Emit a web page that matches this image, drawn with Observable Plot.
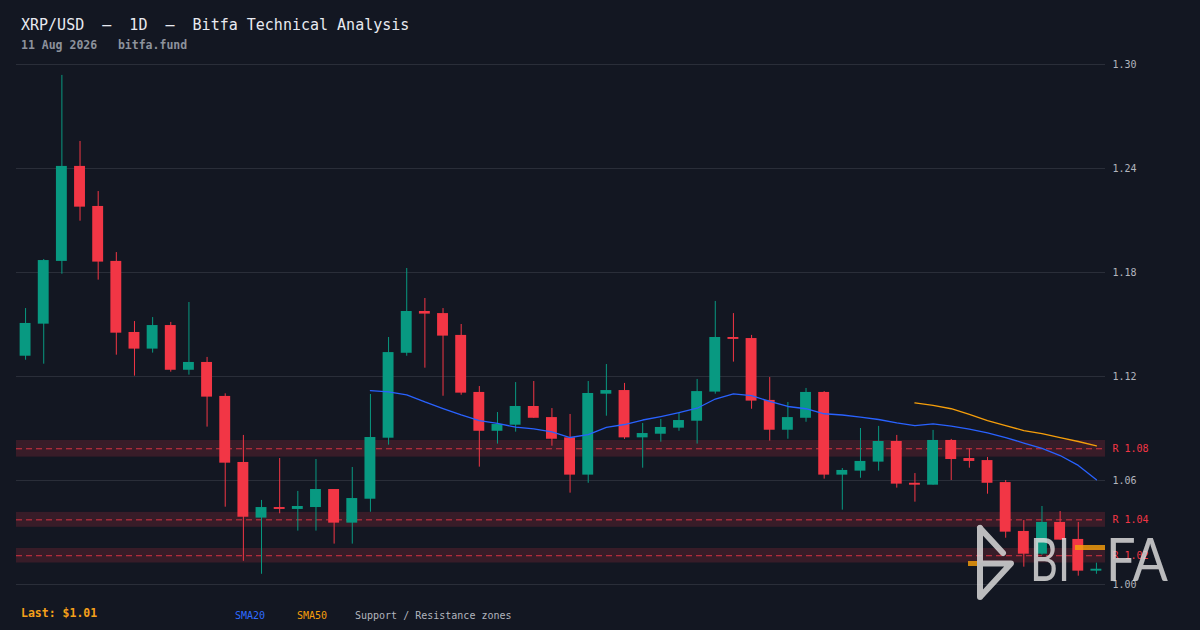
<!DOCTYPE html>
<html>
<head>
<meta charset="utf-8">
<script src="https://cdn.jsdelivr.net/npm/d3@7"></script>
<script src="https://cdn.jsdelivr.net/npm/@observablehq/plot@0.6"></script>
<style>
  html, body { margin:0; padding:0; background:#131722; }
  #wrap { position:relative; width:1200px; height:630px; overflow:hidden; background:#131722; font-family:"DejaVu Sans Mono", monospace; }
  .title { position:absolute; left:21px; top:16px; font-size:15px; line-height:18px; color:#e8eaf0; white-space:pre; }
  .sub { position:absolute; left:21px; top:38px; font-size:11.5px; line-height:14px; color:#8d929c; font-weight:bold; white-space:pre; }
  #chart { position:absolute; left:0; top:56px; }
  .leg { position:absolute; top:609px; font-size:10px; line-height:14px; white-space:pre; }
  #wm { position:absolute; left:0; top:0; pointer-events:none; }
</style>
</head>
<body>
<div id="wrap">
  <div class="title">XRP/USD  –  1D  –  Bitfa Technical Analysis</div>
  <div class="sub">11 Aug 2026   bitfa.fund</div>
  <div id="chart"></div>
  <div class="leg" style="left:21px;top:606px;font-size:11.5px;font-weight:bold;color:#f5a01a;">Last: $1.01</div>
  <div class="leg" style="left:235px;color:#2f6bff;">SMA20</div>
  <div class="leg" style="left:297px;color:#f59e0b;">SMA50</div>
  <div class="leg" style="left:355px;color:#b2b5be;">Support / Resistance zones</div>
  <svg id="wm" width="1200" height="630" viewBox="0 0 1200 630">
    <g opacity="0.82">
      <line x1="968" y1="563.5" x2="978" y2="563.5" stroke="#f59e0b" stroke-width="5"/>
      <polyline points="980,528 980,597" fill="none" stroke="#e0e0e0" stroke-width="6" stroke-linecap="round"/>
      <polyline points="980,528 1003,553" fill="none" stroke="#e0e0e0" stroke-width="6" stroke-linecap="round"/>
      <polyline points="980,563.5 1011,563.5 981,596" fill="none" stroke="#e0e0e0" stroke-width="6" stroke-linecap="round" stroke-linejoin="round"/>
      <rect x="1075" y="545" width="30" height="5" fill="#f59e0b"/>
      <text x="1030" y="581" font-family="Lato, sans-serif" font-weight="400" font-size="60" fill="#e0e0e0" textLength="40" lengthAdjust="spacingAndGlyphs">BI</text>
      <text x="1106" y="581" font-family="Lato, sans-serif" font-weight="400" font-size="60" fill="#e0e0e0" textLength="62" lengthAdjust="spacingAndGlyphs">FA</text>
    </g>
  </svg>
</div>
<script>
// ---- data ----
const opens  = [1.1317,1.1502,1.1864,1.2412,1.2181,1.1864,1.1454,1.1358,1.1494,1.1236,
                1.1281,1.1085,1.0704,1.0383,1.0444,1.0433,1.0444,1.0548,1.0354,1.0492,
                1.0844,1.1334,1.1575,1.1563,1.1437,1.1108,1.0884,1.0919,1.1027,1.0963,
                1.0846,1.0631,1.1098,1.1119,1.0846,1.0867,1.0902,1.0942,1.1110,1.1425,
                1.1419,1.1062,1.0890,1.0959,1.1108,1.0631,1.0654,1.0706,1.0825,1.0584,
                1.0573,1.0831,1.0727,1.0715,1.0588,1.0306,1.0175,1.0358,1.0260,1.0077];
const highs  = [1.1592,1.1875,1.2937,1.2556,1.2267,1.1915,1.1517,1.1540,1.1512,1.1627,
                1.1310,1.1100,1.0860,1.0485,1.0727,1.0537,1.0721,1.0548,1.0675,1.1096,
                1.1425,1.1823,1.1650,1.1592,1.1500,1.1142,1.0992,1.1165,1.1171,1.1015,
                1.0981,1.1171,1.1269,1.1160,1.0929,1.0952,1.0992,1.1183,1.1633,1.1563,
                1.1437,1.1194,1.1050,1.1131,1.1113,1.0669,1.0900,1.0912,1.0860,1.0640,
                1.0889,1.0837,1.0783,1.0733,1.0600,1.0369,1.0450,1.0421,1.0358,1.0123];
const lows   = [1.1294,1.1271,1.1790,1.2096,1.1756,1.1323,1.1202,1.1335,1.1225,1.1208,
                1.0908,1.0446,1.0134,1.0059,1.0408,1.0308,1.0308,1.0233,1.0233,1.0417,
                1.0804,1.1317,1.1248,1.1086,1.1092,1.0677,1.0810,1.0879,1.0959,1.0798,
                1.0527,1.0584,1.0971,1.0837,1.0671,1.0821,1.0884,1.0810,1.1098,1.1283,
                1.1011,1.0827,1.0838,1.0936,1.0608,1.0429,1.0613,1.0654,1.0556,1.0475,
                1.0573,1.0600,1.0671,1.0521,1.0267,1.0100,1.0169,1.0256,1.0048,1.0059];
const closes = [1.1506,1.1869,1.2412,1.2177,1.1860,1.1450,1.1358,1.1494,1.1236,1.1281,
                1.1081,1.0700,1.0388,1.0444,1.0433,1.0450,1.0548,1.0354,1.0496,1.0848,
                1.1338,1.1575,1.1560,1.1433,1.1104,1.0884,1.0923,1.1027,1.0959,1.0838,
                1.0631,1.1102,1.1119,1.0846,1.0871,1.0906,1.0946,1.1113,1.1425,1.1414,
                1.1058,1.0890,1.0963,1.1108,1.0631,1.0658,1.0710,1.0825,1.0579,1.0573,
                1.0831,1.0721,1.0710,1.0584,1.0302,1.0175,1.0358,1.0256,1.0077,1.0088];

const sma20Start = 19;
const sma20 = [1.1118,1.1111,1.1094,1.1053,1.1015,1.0978,1.0946,1.0929,1.0908,1.0898,
               1.0880,1.0848,1.0865,1.0906,1.0923,1.0949,1.0969,1.0991,1.1017,1.1070,
               1.1100,1.1090,1.1056,1.1027,1.1014,1.0985,1.0978,1.0966,1.0952,1.0932,
               1.0916,1.0927,1.0914,1.0897,1.0875,1.0848,1.0816,1.0785,1.0744,1.0687,1.0604];
const sma50Start = 49;
const sma50 = [1.1048,1.1033,1.1014,1.0981,1.0946,1.0917,1.0888,1.0871,1.0848,1.0825,1.0800];

const zoneLevels = [1.0783, 1.0373, 1.0166];
const zoneHalf   = [0.0048, 0.0043, 0.0042];
const yTicks = [1.00, 1.06, 1.12, 1.18, 1.24, 1.30];

// ---- build tables ----
const UP = "#089981", DOWN = "#f23645";
const candles = opens.map((o, i) => ({i, open:o, high:highs[i], low:lows[i], close:closes[i],
  color: closes[i] >= o ? UP : DOWN}));
const s20 = sma20.map((v, k) => ({i: sma20Start + k, v}));
const s50 = sma50.map((v, k) => ({i: sma50Start + k, v}));
const zones = zoneLevels.map((l, k) => ({level:l, lo:l - zoneHalf[k], hi:l + zoneHalf[k]}));

const chart = Plot.plot({
  width: 1200, height: 540,
  marginTop: 8, marginBottom: 12, marginLeft: 16, marginRight: 95,
  style: {background: "transparent", color: "#b2b5be", fontFamily: "DejaVu Sans Mono, monospace", fontSize: "10px"},
  x: {type: "band", domain: d3.range(opens.length), paddingInner: 0.4, paddingOuter: 0.2, round: false, axis: null},
  y: {domain: [1.0, 1.3], axis: null},
  color: {type: "identity"},
  marks: [
    Plot.ruleY(yTicks, {stroke: "#2a2e39", strokeWidth: 1}),
    Plot.rect(zones, {y1: "lo", y2: "hi", fill: "#f23645", fillOpacity: 0.17}),
    Plot.ruleY(zones, {y: "level", stroke: "#f23645", strokeDasharray: "6,4", strokeOpacity: 0.85, strokeWidth: 1}),
    Plot.ruleX(candles, {x: "i", y1: "low", y2: "high", stroke: "color", strokeWidth: 1}),
    Plot.barY(candles, {x: "i", y1: "open", y2: "close", fill: "color"}),
    Plot.line(s20, {x: "i", y: "v", stroke: "#2962ff", strokeWidth: 1.3}),
    Plot.line(s50, {x: "i", y: "v", stroke: "#f59e0b", strokeWidth: 1.3}),
    Plot.text(yTicks, {y: d => d, text: d => d.toFixed(2), frameAnchor: "right", textAnchor: "start", dx: 7, fill: "#b2b5be"}),
    Plot.text(zones, {y: "level", text: d => "R " + d.level.toFixed(2), frameAnchor: "right", textAnchor: "start", dx: 7, fill: "#f23645"})
  ]
});
document.getElementById("chart").appendChild(chart);
</script>
</body>
</html>
